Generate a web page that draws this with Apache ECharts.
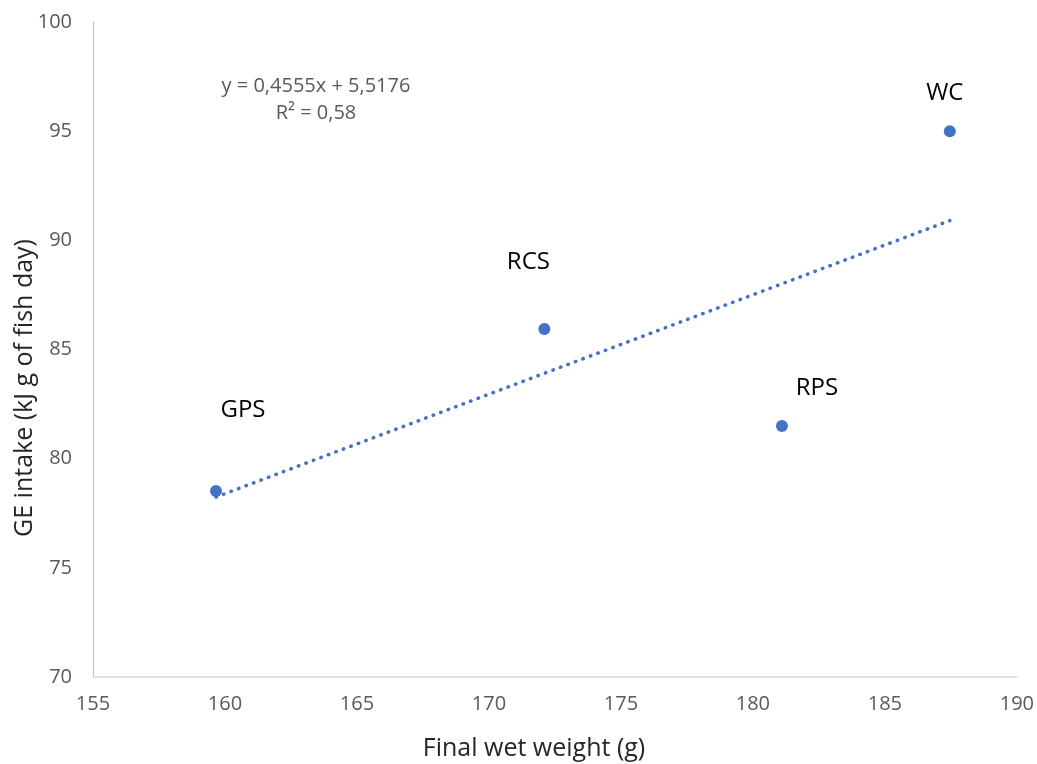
<!DOCTYPE html>
<html>
<head>
<meta charset="utf-8">
<script src="https://cdn.jsdelivr.net/npm/echarts@6/dist/echarts.min.js"></script>
<style>
  html, body { margin: 0; padding: 0; background: #fff; }
  #main { width: 1037px; height: 764px; }
</style>
</head>
<body>
<div id="main"></div>
<script>
// data
var pointNames = ['GPS', 'RCS', 'RPS', 'WC']
var finalWeight = [159.66, 172.1, 181.1, 187.46]
var geIntake = [78.52, 85.94, 81.5, 95.0]
// trendline as printed on the chart
var slope = 0.4555
var intercept = 5.5176
var eqText = 'y = 0,4555x + 5,5176'
var r2Text = 'R\u00b2 = 0,58'
var xTitle = 'Final wet weight (g)'
var yTitle = 'GE intake (kJ g of fish day)'
var xTicks = [155, 190, 5]
var yTicks = [70, 100, 5]

// label offsets so names sit where the reference has them
var labelOffsets = [[27, -81], [-16, -67], [35, -38], [-5, -38]]

var chartDom = document.getElementById('main')
var myChart = echarts.init(chartDom, null, { renderer: 'canvas' })
var option

var scatterData = []
for (let i = 0; i < pointNames.length; i++) {
  scatterData.push({
    name: pointNames[i],
    value: [finalWeight[i], geIntake[i]],
    label: { offset: labelOffsets[i] }
  })
}

let xMin = Math.min.apply(null, finalWeight)
let xMax = Math.max.apply(null, finalWeight)
let trendData = [
  [xMin, slope * xMin + intercept],
  [xMax, slope * xMax + intercept]
]

option = {
  animation: false,
  textStyle: { fontFamily: '"Open Sans", sans-serif' },
  grid: {
    left: 93,
    right: 20,
    top: 22,
    bottom: 87
  },
  xAxis: {
    type: 'value',
    min: xTicks[0],
    max: xTicks[1],
    interval: xTicks[2],
    axisLine: { show: true, lineStyle: { color: '#d9d9d9', width: 1.5 } },
    axisTick: { show: false },
    splitLine: { show: false },
    axisLabel: { color: '#595959', fontSize: 20, margin: 17 }
  },
  yAxis: {
    type: 'value',
    min: yTicks[0],
    max: yTicks[1],
    interval: yTicks[2],
    axisLine: { show: true, lineStyle: { color: '#bfbfbf', width: 1 } },
    axisTick: { show: false },
    splitLine: { show: false },
    axisLabel: { color: '#595959', fontSize: 20, margin: 21 }
  },
  graphic: [
    {
      type: 'text',
      x: 316,
      y: 86,
      style: {
        text: eqText,
        fill: '#595959',
        fontSize: 20,
        align: 'center',
        verticalAlign: 'middle',
        fontFamily: '"Open Sans", sans-serif'
      }
    },
    {
      type: 'text',
      x: 316,
      y: 113,
      style: {
        text: r2Text,
        fill: '#595959',
        fontSize: 20,
        align: 'center',
        verticalAlign: 'middle',
        fontFamily: '"Open Sans", sans-serif'
      }
    },
    {
      type: 'text',
      x: 534,
      y: 749,
      style: {
        text: xTitle,
        fill: '#262626',
        fontSize: 25,
        align: 'center',
        verticalAlign: 'middle',
        fontFamily: '"Open Sans", sans-serif'
      }
    },
    {
      type: 'text',
      x: 25,
      y: 388,
      rotation: Math.PI / 2,
      style: {
        text: yTitle,
        fill: '#262626',
        fontSize: 25,
        align: 'center',
        verticalAlign: 'middle',
        fontFamily: '"Open Sans", sans-serif'
      }
    }
  ],
  series: [
    {
      type: 'line',
      data: trendData,
      symbol: 'none',
      silent: true,
      z: 1,
      lineStyle: {
        color: '#4472c4',
        width: 3.5,
        type: [0.5, 7.5],
        cap: 'round'
      }
    },
    {
      type: 'scatter',
      data: scatterData,
      symbolSize: 12,
      z: 2,
      itemStyle: { color: '#4472c4', opacity: 1 },
      label: {
        show: true,
        position: 'inside',
        formatter: '{b}',
        color: '#000',
        fontSize: 24
      }
    }
  ]
}

option && myChart.setOption(option)
</script>
</body>
</html>
